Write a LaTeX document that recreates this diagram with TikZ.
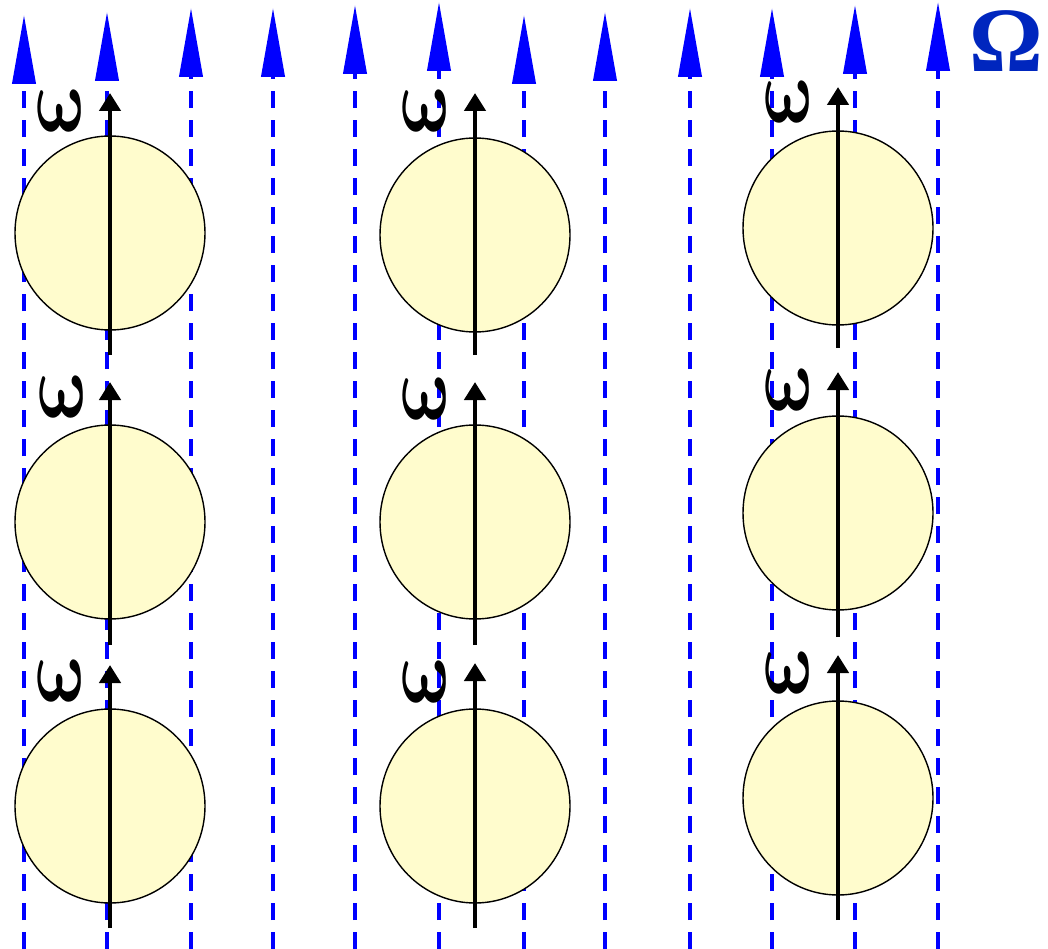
\documentclass[tikz,border=0pt]{standalone}
\usepackage{fontspec}
\setmainfont{Liberation Serif}
\usetikzlibrary{arrows.meta,shapes.geometric}
\definecolor{fieldblue}{RGB}{0,0,255}
\definecolor{omegablue}{RGB}{0,38,190}
\definecolor{ballfill}{RGB}{255,252,205}
\begin{document}
\begin{tikzpicture}[x=1pt,y=-1pt,
  fieldline/.style={fieldblue, line width=4pt, dash pattern=on 17pt off 12pt,
    -{Triangle[length=69pt,width=23pt]}},
  ball/.style={ellipse, draw=black, line width=1.4pt, fill=ballfill,
    minimum width=190pt, minimum height=194pt, inner sep=0pt},
  spin/.style={black, line width=4.5pt, -{Triangle[length=18pt,width=21pt]}},
  wlabel/.style={inner sep=0pt, xslant=-0.22, xscale=6.8, yscale=9.2, font=\boldmath},
  omlabel/.style={inner sep=0pt, text=omegablue, font=\fontsize{92}{92}\selectfont\bfseries}]
\useasboundingbox (0,0) rectangle (1048,949);
% field lines
\foreach \i/\x/\t in {1/24/15, 2/107/12, 3/191/8, 4/273/8, 5/355/5, 6/439/2,
                      7/524/15, 8/605/12, 9/690/8, 10/772/8, 11/855/5, 12/938/2} {
  \coordinate (fb\i) at (\x,949);
  \coordinate (ft\i) at (\x,\t);
  \draw[fieldline] (fb\i) -- (ft\i);
}
% balls
\node[ball] (b11) at (110,233) {};
\node[ball] (b12) at (110,522) {};
\node[ball] (b13) at (110,806) {};
\node[ball] (b21) at (475,235) {};
\node[ball] (b22) at (475,522) {};
\node[ball] (b23) at (475,806) {};
\node[ball] (b31) at (838,228) {};
\node[ball] (b32) at (838,513) {};
\node[ball] (b33) at (838,798) {};
% spin axes
\foreach \n/\x/\s/\e in {11/110/355/93, 12/110/645/382, 13/110/928/665,
                         21/475/355/93, 22/475/645/382, 23/475/928/663,
                         31/838/348/87, 32/838/637/372, 33/838/920/655} {
  \coordinate (as\n) at (\x,\s);
  \coordinate (ae\n) at (\x,\e);
  \draw[spin] (as\n) -- (ae\n);
}
% omega labels
\node[wlabel] (w11) at (62,111) {$\omega$};
\node[wlabel] (w12) at (64,397) {$\omega$};
\node[wlabel] (w13) at (62,681) {$\omega$};
\node[wlabel] (w21) at (427,111) {$\omega$};
\node[wlabel] (w22) at (427,399) {$\omega$};
\node[wlabel] (w23) at (427,682) {$\omega$};
\node[wlabel] (w31) at (790,102) {$\omega$};
\node[wlabel] (w32) at (790,390) {$\omega$};
\node[wlabel] (w33) at (790,673) {$\omega$};
\node[omlabel] (Om) at (1006,41) {Ω};
\end{tikzpicture}
\end{document}
